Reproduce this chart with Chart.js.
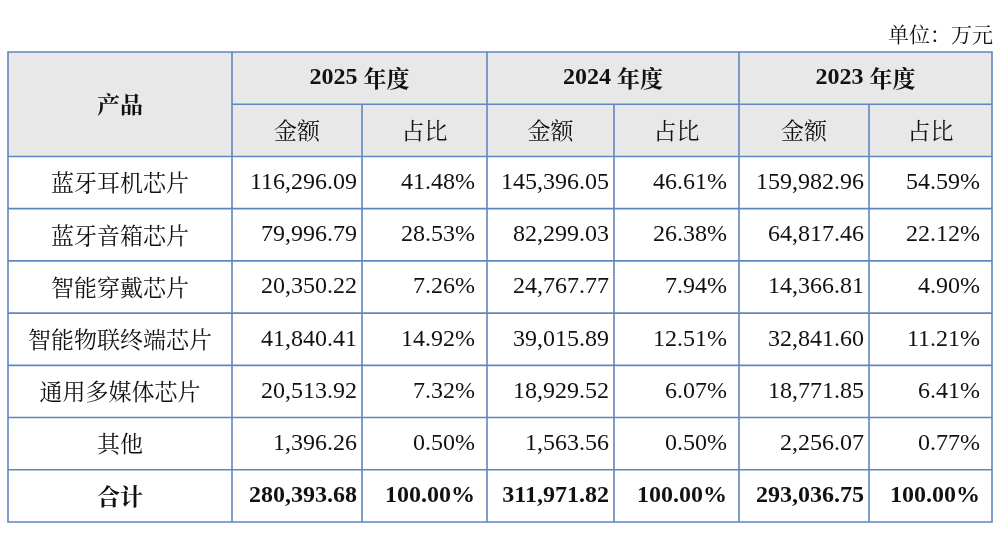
<!DOCTYPE html>
<html><head><meta charset="utf-8">
<script src="https://cdn.jsdelivr.net/npm/chart.js@4/dist/chart.umd.min.js"></script>
<style>html,body{margin:0;padding:0;background:#fff}#w{width:1000px;height:541px;position:relative}</style>
</head><body><div id="w"><canvas id="c"></canvas></div>
<script>
const years = ['2025 年度','2024 年度','2023 年度'];
const products = ['蓝牙耳机芯片','蓝牙音箱芯片','智能穿戴芯片','智能物联终端芯片','通用多媒体芯片','其他','合计'];
const amount2025 = ['116,296.09','79,996.79','20,350.22','41,840.41','20,513.92','1,396.26','280,393.68'];
const share2025 = ['41.48%','28.53%','7.26%','14.92%','7.32%','0.50%','100.00%'];
const amount2024 = ['145,396.05','82,299.03','24,767.77','39,015.89','18,929.52','1,563.56','311,971.82'];
const share2024 = ['46.61%','26.38%','7.94%','12.51%','6.07%','0.50%','100.00%'];
const amount2023 = ['159,982.96','64,817.46','14,366.81','32,841.60','18,771.85','2,256.07','293,036.75'];
const share2023 = ['54.59%','22.12%','4.90%','11.21%','6.41%','0.77%','100.00%'];
const unitText = '单位：万元';

const colEdges = [0,224,354,479,606,731,861,984];
const SERIF = '"Liberation Serif","Noto Serif CJK SC","Noto Sans CJK SC",serif';
const CJK = '"Noto Serif CJK SC","Noto Sans CJK SC",serif';

const tablePlugin = {
  id:'table',
  afterDraw(chart){
    const ctx = chart.ctx, a = chart.chartArea;
    const W = a.right - a.left, H = a.bottom - a.top;
    const sx = W/984;
    const X = i => a.left + colEdges[i]*sx;
    const nRows = 2 + products.length;
    const rh = H/nRows;
    const Y = r => a.top + r*rh;
    ctx.save();
    ctx.fillStyle = '#e8e8e8';
    ctx.fillRect(a.left, a.top, W, 2*rh);
    ctx.fillStyle = '#111';
    ctx.textBaseline = 'middle';
    ctx.font = '21px '+CJK;
    ctx.textAlign = 'right';
    ctx.fillText(unitText, 993, 34);
    ctx.textAlign = 'center';
    ctx.font = 'bold 23px '+CJK;
    ctx.fillText('产品', (X(0)+X(1))/2, Y(1));
    years.forEach((y,i)=>{
      const m = y.split(' ');
      const cx = (X(1+2*i)+X(3+2*i))/2, cy = (Y(0)+Y(1))/2;
      ctx.font = 'bold 24px '+SERIF;
      const w1 = ctx.measureText(m[0]+' ').width;
      ctx.font = 'bold 23px '+CJK;
      const w2 = ctx.measureText(m[1]).width;
      const sx0 = cx-(w1+w2)/2;
      ctx.textAlign='left';
      ctx.font = 'bold 24px '+SERIF; ctx.fillText(m[0], sx0, cy);
      ctx.font = 'bold 23px '+CJK; ctx.fillText(m[1], sx0+w1, cy);
      ctx.textAlign='center';
      ctx.font = '23px '+CJK;
      ctx.fillText('金额', (X(1+2*i)+X(2+2*i))/2, (Y(1)+Y(2))/2);
      ctx.fillText('占比', (X(2+2*i)+X(3+2*i))/2, (Y(1)+Y(2))/2);
    });
    const cols = [amount2025,share2025,amount2024,share2024,amount2023,share2023];
    products.forEach((p,r)=>{
      const cy = (Y(r+2)+Y(r+3))/2;
      const last = r===products.length-1;
      ctx.textAlign='center';
      ctx.font = (last?'bold ':'')+'23px '+CJK;
      ctx.fillText(p, (X(0)+X(1))/2, cy);
      ctx.font = (last?'bold ':'')+'24px '+SERIF;
      ctx.textAlign='right';
      cols.forEach((c,j)=>{ ctx.fillText(c[r], X(j+2)-(j%2===0?5:12), cy); });
    });
    ctx.strokeStyle = '#5f87bf';
    ctx.lineWidth = 1.6;
    ctx.beginPath();
    ctx.rect(a.left, a.top, W, H);
    for(let r=1;r<nRows;r++){
      if(r===1){ ctx.moveTo(X(1),Y(1)); ctx.lineTo(a.right,Y(1)); }
      else { ctx.moveTo(a.left,Y(r)); ctx.lineTo(a.right,Y(r)); }
    }
    for(let i=1;i<colEdges.length-1;i++){
      const top = (i%2===0) ? Y(1) : a.top;
      ctx.moveTo(X(i),top); ctx.lineTo(X(i),a.bottom);
    }
    ctx.stroke();
    ctx.restore();
  }
};

new Chart(document.getElementById('c'),{
  type:'bar',
  data:{labels:products,datasets:[]},
  options:{
    responsive:true,maintainAspectRatio:false,animation:false,
    layout:{padding:{left:8,right:8,top:52,bottom:19}},
    plugins:{legend:{display:false},tooltip:{enabled:false}},
    scales:{x:{display:false},y:{display:false}}
  },
  plugins:[tablePlugin]
});
</script></body></html>
